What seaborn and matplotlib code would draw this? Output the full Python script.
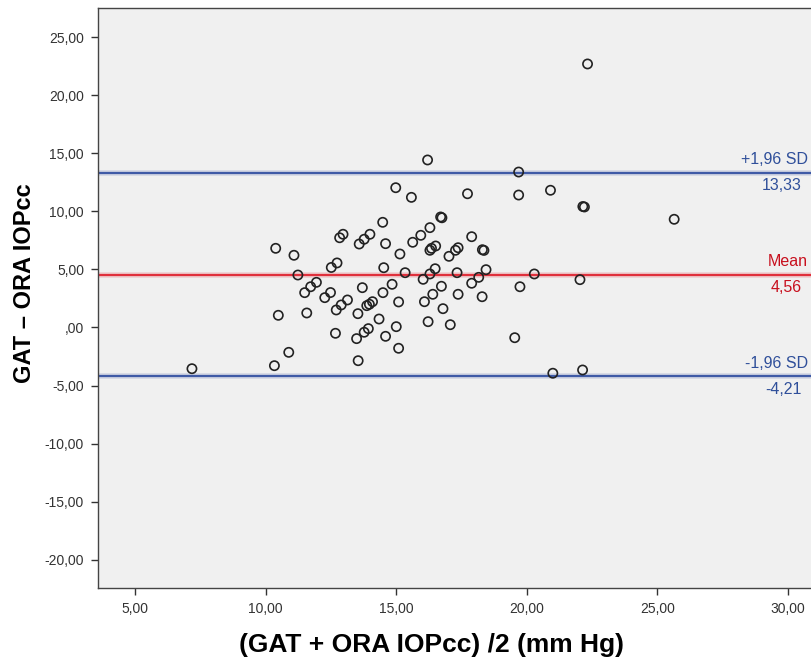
import matplotlib
matplotlib.use("Agg")
import matplotlib.pyplot as plt
import seaborn as sns
import pandas as pd

# ---- data ----
mean_ioP = [10.38, 11.08, 11.23, 11.94, 11.72, 11.49, 12.26, 12.48, 12.51, 10.48,
            11.57, 10.88, 10.33, 7.17, 16.20, 14.98, 15.58, 17.73, 14.48, 16.70,
            16.75, 16.29, 15.94, 15.63, 12.96, 12.83, 13.99, 13.77, 13.58, 14.59,
            15.14, 16.51, 16.35, 16.29, 17.37, 17.27, 17.02, 17.89, 18.30, 18.36,
            12.73, 14.52, 15.34, 16.49, 16.29, 16.03, 17.33, 18.44, 18.16, 17.89,
            18.29, 17.37, 16.73, 16.40, 16.08, 16.79, 16.22, 17.07, 14.84, 14.49,
            15.09, 13.70, 13.13, 12.89, 12.70, 14.09, 13.97, 13.87, 13.53, 14.34,
            15.00, 13.93, 13.77, 13.48, 12.67, 14.59, 15.09, 13.54, 19.69, 19.69,
            20.91, 22.15, 22.21, 25.65, 20.29, 19.74, 22.04, 19.54, 21.00, 22.14,
            22.33]
diff_ioP = [6.82, 6.22, 4.52, 3.89, 3.51, 3.00, 2.57, 3.01, 5.17, 1.05,
            1.25, -2.14, -3.29, -3.55, 14.43, 12.04, 11.21, 11.52, 9.06, 9.52,
            9.45, 8.60, 7.94, 7.34, 8.03, 7.73, 8.03, 7.60, 7.19, 7.22,
            6.33, 7.02, 6.82, 6.65, 6.87, 6.65, 6.13, 7.82, 6.70, 6.64,
            5.56, 5.15, 4.72, 5.06, 4.61, 4.15, 4.72, 4.98, 4.32, 3.81,
            2.65, 2.86, 3.55, 2.86, 2.22, 1.62, 0.50, 0.24, 3.72, 3.00,
            2.20, 3.43, 2.37, 1.94, 1.51, 2.22, 2.00, 1.88, 1.19, 0.73,
            0.07, -0.10, -0.41, -0.96, -0.50, -0.76, -1.79, -2.86, 13.39, 11.41,
            11.82, 10.42, 10.38, 9.32, 4.61, 3.51, 4.12, -0.88, -3.94, -3.66,
            22.70]

mean_diff = 4.56
upper_loa = 13.33
lower_loa = -4.21
line_values = [upper_loa, mean_diff, lower_loa]
line_names = ["+1,96 SD", "Mean", "-1,96 SD"]
line_value_labels = ["13,33", "4,56", "-4,21"]

x_ticks = [5, 10, 15, 20, 25, 30]
y_ticks = [-20, -15, -10, -5, 0, 5, 10, 15, 20, 25]

x_label = "(GAT + ORA IOPcc) /2 (mm Hg)"
y_label = "GAT \u2013 ORA IOPcc"

df = pd.DataFrame({"avg": mean_ioP, "diff": diff_ioP})


def fmt(v):
    s = f"{v:.2f}".replace(".", ",")
    if s.startswith("0,"):
        s = s[1:]
    if s.startswith("-0,"):
        s = "-" + s[2:]
    return s


sns.set_theme(style="white")
plt.rcParams["font.family"] = ["Liberation Sans", "DejaVu Sans"]

fig = plt.figure(figsize=(8.11, 6.60), dpi=100)
ax_w_px = 811 - 98 + 8
ax_top, ax_bot = 8, 588
ax_h_px = ax_bot - ax_top
ax = fig.add_axes([98 / 811, 1 - ax_bot / 660, ax_w_px / 811, ax_h_px / 660])
ax.set_facecolor("#F0F0F0")

blue = "#3F5AA6"
red = "#E0303C"
line_cols = [blue, red, blue]
text_cols = ["#2F4F9A", "#C8101E", "#2F4F9A"]

for v, c in zip(line_values, line_cols):
    ax.axhline(v, color=c, lw=4.0, alpha=0.18, zorder=1)
    ax.axhline(v, color=c, lw=1.6, zorder=2)

sns.scatterplot(data=df, x="avg", y="diff", ax=ax, marker="o", s=44,
                facecolor="none", edgecolor="#222222", linewidth=1.2, zorder=3)

ax.set_xlim(3.57, 31.2)
ax.set_ylim(-22.44, 27.52)
ax.set_xticks(x_ticks)
ax.set_yticks(y_ticks)
ax.set_xticklabels([fmt(v) for v in x_ticks])
ax.set_yticklabels([fmt(v) for v in y_ticks])
ax.tick_params(axis="both", which="major", direction="out", length=5, width=1,
               color="#333333", labelsize=10, labelcolor="#333333", pad=5,
               bottom=True, left=True)

for side in ["left", "bottom", "top"]:
    ax.spines[side].set_color("#444444")
    ax.spines[side].set_linewidth(1.0)
ax.spines["right"].set_visible(False)

ax.set_xlabel(x_label, fontsize=19, fontweight="bold", color="black")
ax.set_ylabel(y_label, fontsize=17, fontweight="bold", color="black")
ax.xaxis.set_label_coords((432 - 98) / ax_w_px, (ax_bot - 633) / ax_h_px)
ax.yaxis.set_label_coords((36 - 98) / ax_w_px, (ax_bot - 283) / ax_h_px)

# line annotations at the right edge
for v, name, lab, tc in zip(line_values, line_names, line_value_labels, text_cols):
    ax.annotate(name, xy=(808 / 811, v), xycoords=("figure fraction", "data"),
                xytext=(0, 4), textcoords="offset points",
                ha="right", va="bottom", fontsize=11.5, color=tc)
    ax.annotate(lab, xy=(802 / 811, v), xycoords=("figure fraction", "data"),
                xytext=(0, -4), textcoords="offset points",
                ha="right", va="top", fontsize=11.5, color=tc)

fig.savefig("out.png", dpi=100)
